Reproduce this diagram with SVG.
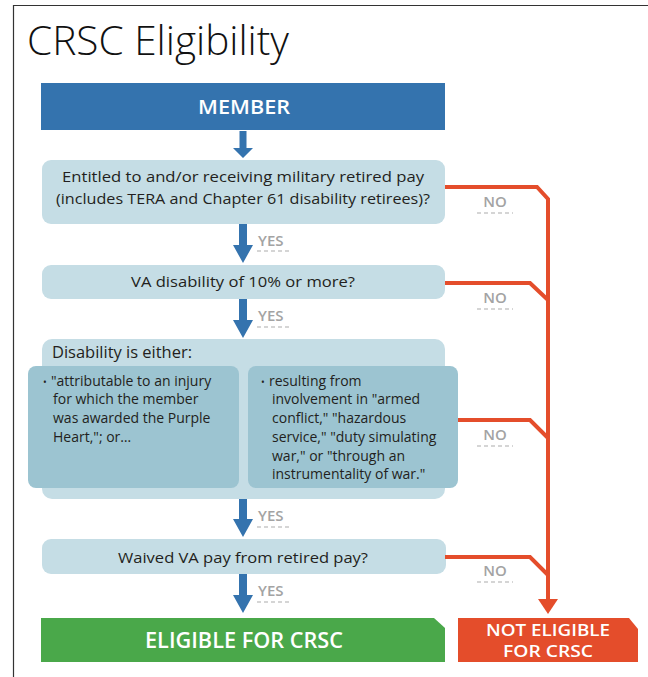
<svg xmlns="http://www.w3.org/2000/svg" width="648" height="677" viewBox="0 0 648 677">
<defs>
<style>
.t{font-family:"Open Sans","Liberation Sans",sans-serif;fill:#231f20}
.q{fill:#c5dde5}
.qi{fill:#9cc4d1}
.lbl{font-family:"Open Sans","Liberation Sans",sans-serif;font-weight:600;font-size:15px;fill:#a3a3a3}
.dash{stroke:#c8c8c8;stroke-width:1.3;stroke-dasharray:4 3;fill:none}
.red{stroke:#e44d2b;stroke-width:4;fill:none;stroke-linejoin:miter}
.blue{fill:#3473ae}
.wt{font-family:"Open Sans","Liberation Sans",sans-serif;font-weight:600;fill:#ffffff}
</style>
</defs>
<rect width="648" height="677" fill="#ffffff"/>
<path d="M13.5 677 V5.5 H648" fill="none" stroke="#333" stroke-width="1.2"/>
<text x="27" y="55" class="t" font-size="40" font-weight="300" textLength="262" lengthAdjust="spacingAndGlyphs" style="fill:#111">CRSC Eligibility</text>

<g id="member">
<rect x="41" y="83" width="404" height="47" class="blue"/>
<text x="244" y="114" class="wt" font-size="20" text-anchor="middle" textLength="92" lengthAdjust="spacingAndGlyphs">MEMBER</text>
</g>

<g id="q1">
<rect x="42" y="160" width="403" height="64" rx="9" class="q"/>
<text x="243" y="182" class="t" font-size="15" text-anchor="middle" textLength="362" lengthAdjust="spacingAndGlyphs">Entitled to and/or receiving military retired pay</text>
<text x="243" y="204" class="t" font-size="15" text-anchor="middle" textLength="374" lengthAdjust="spacingAndGlyphs">(includes TERA and Chapter 61 disability retirees)?</text>
</g>

<g id="q2">
<rect x="42" y="265" width="403" height="34" rx="9" class="q"/>
<text x="243" y="287" class="t" font-size="15" text-anchor="middle" textLength="224" lengthAdjust="spacingAndGlyphs">VA disability of 10% or more?</text>
</g>

<g id="q3">
<rect x="42" y="339" width="403" height="160" rx="10" class="q"/>
<text x="52" y="358" class="t" font-size="16" textLength="140" lengthAdjust="spacingAndGlyphs">Disability is either:</text>
<rect x="28" y="366" width="211" height="122" rx="8" class="qi"/>
<rect x="248" y="366" width="210" height="122" rx="8" class="qi"/>
<g class="t" font-size="14">
<text x="43" y="386" font-size="10">•</text>
<text x="51" y="386">"attributable to an injury</text>
<text x="53" y="404">for which the member</text>
<text x="53" y="423">was awarded the Purple</text>
<text x="53" y="442">Heart,"; or…</text>
<text x="261" y="386" font-size="10">•</text>
<text x="269" y="386">resulting from</text>
<text x="272" y="404">involvement in "armed</text>
<text x="272" y="423">conflict," "hazardous</text>
<text x="272" y="442">service," "duty simulating</text>
<text x="272" y="461">war," or "through an</text>
<text x="272" y="479">instrumentality of war."</text>
</g>
</g>

<g id="q4">
<rect x="42" y="539" width="404" height="35" rx="9" class="q"/>
<text x="243" y="563" class="t" font-size="15" text-anchor="middle" textLength="250" lengthAdjust="spacingAndGlyphs">Waived VA pay from retired pay?</text>
</g>

<g id="eligible">
<path d="M41 618 H434 L445 628 V662 H41 Z" fill="#4aa84a"/>
<text x="244" y="648" class="wt" font-size="21" text-anchor="middle" textLength="198" lengthAdjust="spacingAndGlyphs">ELIGIBLE FOR CRSC</text>
</g>

<g id="not-eligible">
<path d="M458 618 H629 L638 629 V662 H458 Z" fill="#e44d2b"/>
<text x="548" y="636" class="wt" font-size="16" text-anchor="middle" textLength="124" lengthAdjust="spacingAndGlyphs">NOT ELIGIBLE</text>
<text x="548" y="657" class="wt" font-size="16" text-anchor="middle" textLength="90" lengthAdjust="spacingAndGlyphs">FOR CRSC</text>
</g>

<g id="connectors">
<path class="blue" d="M239.5 131 H246.5 V148 H253 L243 158 L233 148 H239.5 Z"/>
<path class="blue" d="M239 224 H247 V245 H253 L243 263 L233 245 H239 Z"/>
<path class="blue" d="M239 299 H247 V320 H253 L243 338 L233 320 H239 Z"/>
<path class="blue" d="M239 499 H247 V519 H253 L243 537 L233 519 H239 Z"/>
<path class="blue" d="M239 574 H247 V595 H253 L243 613 L233 595 H239 Z"/>
<path class="red" d="M445 187 H537 L548 199 V600"/>
<path class="red" d="M445 283 H530 L548 300"/>
<path class="red" d="M458 420 H530 L548 438"/>
<path class="red" d="M445 557 H530 L548 575"/>
<path d="M538 599 H558 L548 614 Z" fill="#e44d2b"/>
<text x="258" y="246" class="lbl">YES</text>
<path class="dash" d="M257 251 H290"/>
<text x="258" y="321" class="lbl">YES</text>
<path class="dash" d="M257 327 H290"/>
<text x="258" y="521" class="lbl">YES</text>
<path class="dash" d="M257 527 H290"/>
<text x="258" y="596" class="lbl">YES</text>
<path class="dash" d="M257 602 H290"/>
<text x="495" y="207" class="lbl" text-anchor="middle">NO</text>
<path class="dash" d="M477 213 H513"/>
<text x="495" y="303" class="lbl" text-anchor="middle">NO</text>
<path class="dash" d="M477 309 H513"/>
<text x="495" y="440" class="lbl" text-anchor="middle">NO</text>
<path class="dash" d="M477 446 H513"/>
<text x="495" y="576" class="lbl" text-anchor="middle">NO</text>
<path class="dash" d="M477 582 H513"/>
</g>
</svg>
